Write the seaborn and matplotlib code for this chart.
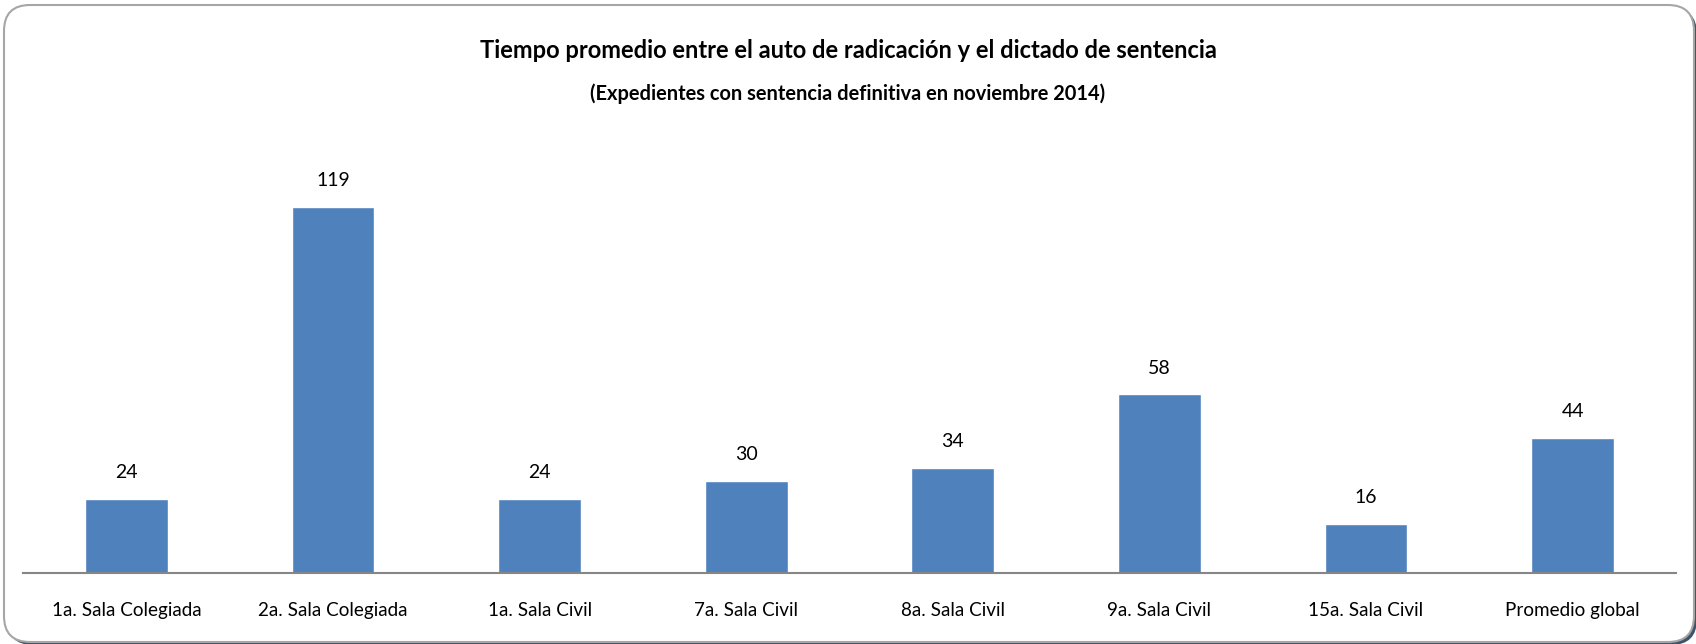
import matplotlib
matplotlib.use("Agg")
import matplotlib.pyplot as plt
import seaborn as sns
import pandas as pd
from matplotlib.patches import FancyBboxPatch

# Chart data
salas = ["1a. Sala Colegiada", "2a. Sala Colegiada", "1a. Sala Civil", "7a. Sala Civil",
         "8a. Sala Civil", "9a. Sala Civil", "15a. Sala Civil", "Promedio global"]
dias = [24, 119, 24, 30, 34, 58, 16, 44]

title = "Tiempo promedio entre el auto de radicación y el dictado de sentencia"
subtitle = "(Expedientes con sentencia definitiva en noviembre 2014)"

sns.set_theme(style="white")
plt.rcParams['font.family'] = ['Lato', 'DejaVu Sans']

df = pd.DataFrame({"sala": salas, "dias": dias})

W, H = 1696, 644
fig = plt.figure(figsize=(W / 100, H / 100), dpi=100)

# rounded frame (pixel coords) with a dark shadow at the lower right
shadow = FancyBboxPatch((7, -1), 1690, 637, boxstyle="round,pad=0,rounding_size=26",
                        transform=None, facecolor="#3f5369", edgecolor="none", zorder=0)
frame = FancyBboxPatch((4, 2), 1690, 637, boxstyle="round,pad=0,rounding_size=26",
                       transform=None, facecolor="white", edgecolor="#a6a6a6",
                       linewidth=1.5, zorder=1)
fig.patches.extend([shadow, frame])

ax = fig.add_axes([23 / W, 1 - 573 / H, 1653 / W, 431 / H])
ax.set_zorder(2)
ax.patch.set_alpha(0)

sns.barplot(data=df, x="sala", y="dias", color="#4F81BD", saturation=1, width=0.4, ax=ax)

for i, v in enumerate(dias):
    ax.text(i, v + 5.8, str(v), ha="center", va="bottom", fontsize=14, color="black")

ax.set_ylim(0, 140)
ax.set_xlim(-0.5, len(salas) - 0.5)
ax.set_xlabel("")
ax.set_ylabel("")
ax.set_yticks([])
for s in ["top", "right", "left"]:
    ax.spines[s].set_visible(False)
ax.spines["bottom"].set_color("#868686")
ax.spines["bottom"].set_linewidth(1.5)
ax.tick_params(axis="x", length=0, pad=21, labelsize=13.6, colors="black")

fig.text(0.5, 1 - 50 / H, title, ha="center", va="center", fontsize=17, fontweight="bold",
         color="black", zorder=3)
fig.text(0.5, 1 - 94 / H, subtitle, ha="center", va="center", fontsize=14.4, fontweight="bold",
         color="black", zorder=3)

fig.savefig("out.png", dpi=100)
